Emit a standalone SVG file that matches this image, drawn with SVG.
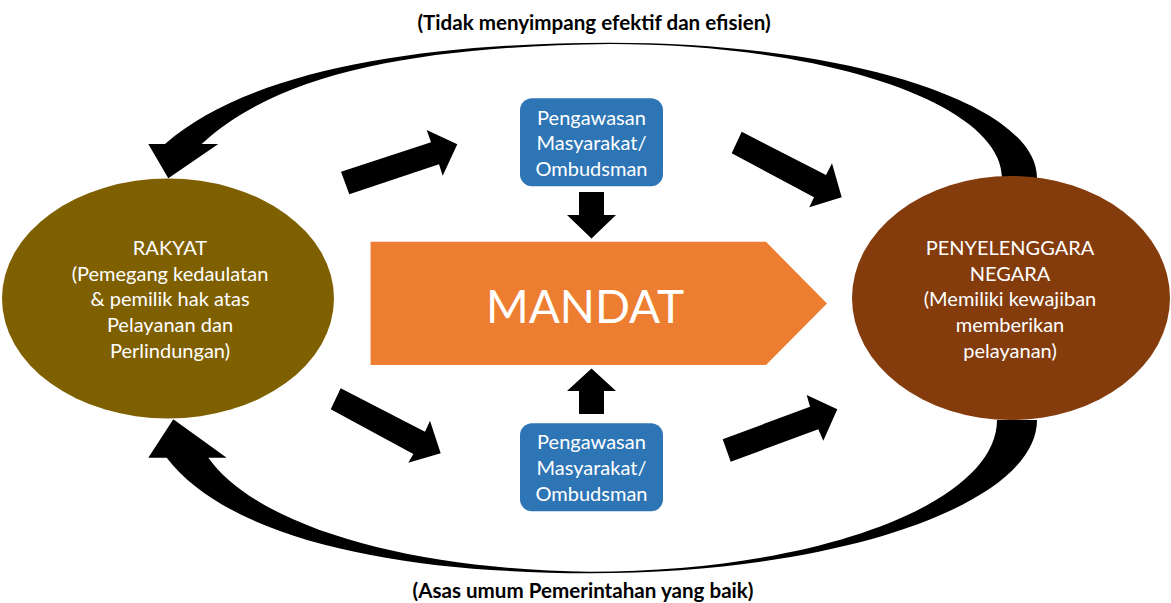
<svg xmlns="http://www.w3.org/2000/svg" width="1171" height="603" viewBox="0 0 1171 603">
<style>
.t{font-family:Lato,"Open Sans","Liberation Sans",sans-serif;fill:#fff;text-anchor:middle;font-size:20px}
.cap{font-family:Lato,"Open Sans","Liberation Sans",sans-serif;fill:#000;text-anchor:middle;font-size:20.6px;font-weight:bold}
.blk{fill:#000}
.box{fill:#2E75B6}
</style>
<rect width="1171" height="603" fill="#fff"/>
<g id="connectors">
<path class="blk" d="M1037,178 C1037,103 846,42.7 610,42.7 C420,43 250,70 165,144 L148.3,144 L168.3,178.3 L218.3,144 L201.7,144 C280,70 430,46 610,44 C826,44 1002,104 1002,178 Z"/>
<path class="blk" d="M1037,420 C1037,504.5 837,573.3 590,573.3 C400,573 230,540 166.7,457.7 L148.3,457.7 L173.3,419.3 L226.7,457.7 L208.3,457.7 C260,530 420,570 590,571.7 C815,571.7 997,504 997,420 Z"/>
<polygon class="blk" points="341,171.7 431,142.3 426.7,130 457.3,144.3 442.7,175.7 439,164.3 349.3,194.3"/>
<polygon class="blk" points="741.7,131.7 826,175 832,163.3 841.7,197.3 809.3,207.3 814,197.3 731.7,153.3"/>
<polygon class="blk" points="340.7,388.3 425,431.7 430,420.7 440.7,453.3 408.3,462.7 413.3,454 330.7,409.3"/>
<polygon class="blk" points="722.7,439.3 810,406.7 806.7,395 837.3,409.3 823.3,440.7 818.3,429.3 730.7,461.7"/>
<polygon class="blk" points="579,192 604,192 604,215 616,215 591.5,238.5 567,215 579,215"/>
<polygon class="blk" points="591.5,368.4 616,391 604,391 604,414 579,414 579,391 567,391"/>
</g>
<g id="rakyat">
<ellipse cx="168" cy="298.5" rx="166" ry="120" fill="#7F6000"/>
<text class="t" x="170" y="254.7">RAKYAT</text>
<text class="t" x="170" y="280.5">(Pemegang kedaulatan</text>
<text class="t" x="170" y="306.3">&amp; pemilik hak atas</text>
<text class="t" x="170" y="332.1">Pelayanan dan</text>
<text class="t" x="170" y="358">Perlindungan)</text>
</g>
<g id="penyelenggara">
<ellipse cx="1011" cy="298" rx="159" ry="122" fill="#843C0C"/>
<text class="t" x="1010" y="254.7">PENYELENGGARA</text>
<text class="t" x="1010" y="280.5">NEGARA</text>
<text class="t" x="1010" y="306.3">(Memiliki kewajiban</text>
<text class="t" x="1010" y="332.1">memberikan</text>
<text class="t" x="1010" y="358">pelayanan)</text>
</g>
<g id="mandat">
<polygon points="370.6,241.8 766,241.8 827,303.6 766,365 370.6,365" fill="#ED7D31"/>
<text x="585" y="322.6" style="font-family:Lato,'Open Sans','Liberation Sans',sans-serif;font-size:46px;fill:#fff;text-anchor:middle">MANDAT</text>
</g>
<g id="pengawasan-top">
<rect class="box" x="520" y="98.3" width="143" height="88" rx="12"/>
<text class="t" x="591.5" y="124.5">Pengawasan</text>
<text class="t" x="591.5" y="150.3">Masyarakat/</text>
<text class="t" x="591.5" y="176">Ombudsman</text>
</g>
<g id="pengawasan-bottom">
<rect class="box" x="520" y="423.3" width="143" height="88" rx="12"/>
<text class="t" x="591.5" y="449.3">Pengawasan</text>
<text class="t" x="591.5" y="475">Masyarakat/</text>
<text class="t" x="591.5" y="500.7">Ombudsman</text>
</g>
<g id="labels">
<text class="cap" x="594" y="29.5">(Tidak menyimpang efektif dan efisien)</text>
<text class="cap" x="583" y="598">(Asas umum Pemerintahan yang baik)</text>
</g>
</svg>
